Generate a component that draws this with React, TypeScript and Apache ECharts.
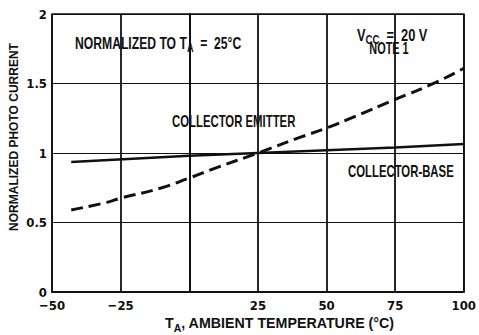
import React, { useEffect, useRef } from "react";
import * as echarts from "echarts";

const FONT = "'Liberation Sans', Arial, sans-serif";
const TICK_FONT = "'DejaVu Sans Condensed', 'Liberation Sans', sans-serif";

const xTicks = [-50, -25, 0, 25, 50, 75, 100];
const yTicks = [0, 0.5, 1, 1.5, 2];

const tempCB = [-43, 0, 25, 50, 75, 100];
const currentCB = [0.935, 0.98, 1.0, 1.02, 1.04, 1.065];

const tempCE = [-43, -30, -25, -10, 0, 10, 25, 40, 50, 60, 75, 90, 100];
const currentCE = [0.59, 0.645, 0.675, 0.75, 0.82, 0.895, 1.0, 1.11, 1.18, 1.26, 1.385, 1.51, 1.61];

export default function App() {
  const ref = useRef<HTMLDivElement>(null);
  useEffect(() => {
    document.body.style.margin = "0";
    const chart = echarts.init(ref.current!, null, { renderer: "svg" });
    const mkRich = (size: number) => ({
      a: { fontFamily: FONT, fontSize: size, fontWeight: "bold", color: "#111", lineHeight: size + 5, verticalAlign: "middle" },
      s: { fontFamily: FONT, fontSize: Math.round(size * 0.75), fontWeight: "bold", color: "#111", lineHeight: size + 5, verticalAlign: "bottom" },
    });
    const mkText = (x: number, y: number, text: string, size: number, sx: number, extra: any = {}) => ({
      type: "text",
      x,
      y,
      scaleX: sx,
      style: { text, rich: mkRich(size), fill: "#111", align: "left", verticalAlign: "middle", ...extra },
    });
    chart.setOption({
      animation: false,
      backgroundColor: "#fff",
      grid: { left: 52, right: 7, top: 14, bottom: 43, show: true, borderColor: "#111", borderWidth: 1.5 },
      xAxis: {
        type: "value",
        min: xTicks[0],
        max: xTicks[xTicks.length - 1],
        interval: 25,
        axisLine: { show: true, lineStyle: { color: "#111", width: 2 } },
        axisTick: { show: false },
        splitLine: { show: true, lineStyle: { color: "#111", width: 1.8 } },
        axisLabel: {
          margin: 7,
          fontFamily: TICK_FONT,
          fontSize: 13,
          fontWeight: "bold",
          color: "#111",
          formatter: (v: number) => (v === 0 ? "" : v < 0 ? "\u2212" + Math.abs(v) : String(v)),
        },
      },
      yAxis: {
        type: "value",
        min: yTicks[0],
        max: yTicks[yTicks.length - 1],
        interval: 0.5,
        axisLine: { show: true, lineStyle: { color: "#111", width: 2 } },
        axisTick: { show: false },
        splitLine: { show: true, lineStyle: { color: "#111", width: 1.2 } },
        axisLabel: { margin: 5, fontFamily: TICK_FONT, fontSize: 13, fontWeight: "bold", color: "#111" },
      },
      series: [
        {
          name: "COLLECTOR-BASE",
          type: "line",
          data: tempCB.map((t, i) => [t, currentCB[i]]),
          showSymbol: false,
          lineStyle: { color: "#111", width: 2.6 },
        },
        {
          name: "COLLECTOR EMITTER",
          type: "line",
          data: tempCE.map((t, i) => [t, currentCE[i]]),
          showSymbol: false,
          smooth: true,
          lineStyle: { color: "#111", width: 3, type: [12, 6] },
        },
      ],
      graphic: [
        mkText(75, 43, "{a|NORMALIZED TO T}{s|A}{a|  =  25°C}", 16, 0.76),
        mkText(357, 35, "{a|V}{s|CC}{a|  =  20 V}", 16, 0.8),
        mkText(389, 49, "{a|NOTE 1}", 16, 0.68, { align: "center" }),
        mkText(172, 121, "{a|COLLECTOR EMITTER}", 16, 0.71),
        mkText(348, 171, "{a|COLLECTOR-BASE}", 16, 0.71),
        mkText(165, 323, "{a|T}{s|A}{a|, AMBIENT TEMPERATURE (°C)}", 15, 0.95),
        {
          type: "text",
          x: 14,
          y: 137,
          rotation: Math.PI / 2,
          style: {
            text: "NORMALIZED PHOTO CURRENT",
            fontFamily: FONT,
            fontSize: 12,
            fontWeight: "bold",
            fill: "#111",
            align: "center",
            verticalAlign: "middle",
          },
        },
      ],
    });
    return () => chart.dispose();
  }, []);
  return <div ref={ref} style={{ position: "fixed", left: 0, top: 0, width: 479, height: 335 }} />;
}
